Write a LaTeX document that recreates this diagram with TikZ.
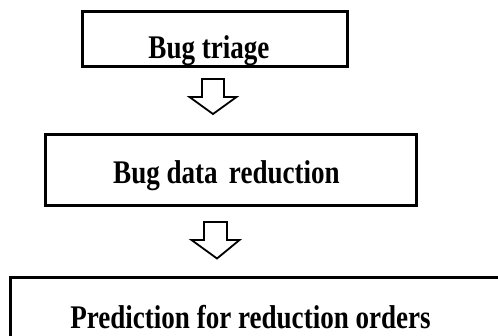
\documentclass[tikz,border=0pt]{standalone}
\usepackage{fontspec}
\setmainfont{Liberation Serif}
\begin{document}
\begin{tikzpicture}[x=1pt,y=-1pt,
  boxst/.style={draw=black, line width=2.6pt, rectangle, inner sep=0pt, outer sep=0pt},
  lbl/.style={inner sep=0pt, outer sep=0pt, anchor=base, font=\fontsize{33}{36}\selectfont\bfseries, xscale=0.82},
  blockarrow/.style={draw=black, line width=1.8pt, line join=miter, fill=white}]
\useasboundingbox (0,0) rectangle (498,335);
\clip (0,0) rectangle (498,335);
% boxes
\node[boxst, minimum width=265.4pt, minimum height=55.4pt] (b1) at (215,39) {};
\node[boxst, minimum width=371.4pt, minimum height=71.4pt] (b2) at (231,170) {};
\node[boxst, minimum width=510pt, minimum height=84pt] (b3) at (265.3,319.3) {};
% labels
\node[lbl] (t1) at (209,58) {Bug triage};
\node[lbl] (t2) at (226.5,183) {Bug data\, reduction};
\node[lbl] (t3) at (250.5,328) {Prediction for reduction orders};
% block arrows between boxes
\draw[blockarrow] (202,79) -- (224,79) -- (224,97) -- (236.5,97) -- (213,114) -- (189.5,97) -- (202,97) -- cycle;
\draw[blockarrow] (204,222) -- (227,222) -- (227,240) -- (239.5,240) -- (217,258.5) -- (191.5,240) -- (204,240) -- cycle;
\end{tikzpicture}
\end{document}
